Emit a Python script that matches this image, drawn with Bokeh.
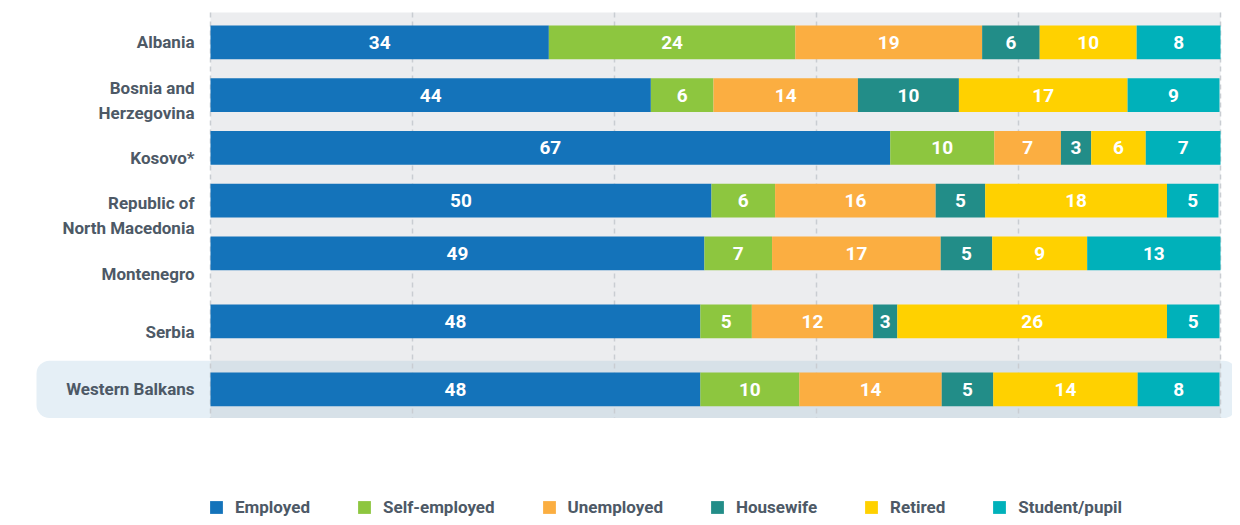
import numpy as np
from bokeh.plotting import figure
from bokeh.models import ColumnDataSource, Range1d, Legend, LegendItem
from bokeh.core.properties import value
from bokeh.embed import file_html
from bokeh.resources import INLINE

# ---------------- data ----------------
countries = ["Albania", "Bosnia and\nHerzegovina", "Kosovo*", "Republic of\nNorth Macedonia",
             "Montenegro", "Serbia", "Western Balkans"]
series = ["Employed", "Self-employed", "Unemployed", "Housewife", "Retired", "Student/pupil"]

employed      = [33.5, 43.6, 67.3, 49.6, 48.9, 48.5, 48.5]
self_employed = [24.4, 6.2, 10.3, 6.3, 6.7, 5.1, 9.8]
unemployed    = [18.5, 14.3, 6.6, 15.9, 16.7, 12.0, 14.1]
housewife     = [5.7, 10.0, 3.0, 4.9, 5.1, 2.4, 5.1]
retired       = [9.6, 16.7, 5.4, 18.0, 9.4, 26.7, 14.3]
student       = [8.3, 9.1, 7.4, 5.1, 13.2, 5.2, 8.1]

employed_lbl      = [34, 44, 67, 50, 49, 48, 48]
self_employed_lbl = [24, 6, 10, 6, 7, 5, 10]
unemployed_lbl    = [19, 14, 7, 16, 17, 12, 14]
housewife_lbl     = [6, 10, 3, 5, 5, 3, 5]
retired_lbl       = [10, 17, 6, 18, 9, 26, 14]
student_lbl       = [8, 9, 7, 5, 13, 5, 8]

grid_ticks = [0, 20, 40, 60, 80, 100]

colors = ["#1473BA", "#8DC63F", "#FBAE41", "#228D88", "#FFD100", "#00B1BA"]
TEXT_COLOR = "#4D5966"
FONT = "Roboto"

# ---------------- layout ----------------
W, H = 1232, 517
ORIGIN = 0              # picture px of figure origin
ROW_PX = 52.75          # px per row unit
X_PX = 10.1             # px per percent
X0_PIC = 210.0          # picture px of 0 %
Y0_PIC = 41.85          # picture px of first row centre
GAP = 15.25 / ROW_PX    # extra gap before Serbia and Western Balkans
BAR_H = 33.7 / ROW_PX

n = len(countries)
idx = np.arange(n)
pos = idx + GAP * np.maximum(0, idx - 4)
label_pos = np.linspace(pos[0], pos[-1], n)

vals = [employed, self_employed, unemployed, housewife, retired, student]
lbls = [employed_lbl, self_employed_lbl, unemployed_lbl, housewife_lbl, retired_lbl, student_lbl]

data = {"pos": pos}
for name, v in zip(series, vals):
    data[name] = v
source = ColumnDataSource(data)

p = figure(width=W, height=H, output_backend="svg", toolbar_location=None,
           x_axis_location=None, y_axis_location=None, min_border=0,
           x_range=Range1d((ORIGIN - X0_PIC) / X_PX, (ORIGIN + W - X0_PIC) / X_PX),
           y_range=Range1d((ORIGIN + H - Y0_PIC) / ROW_PX, (ORIGIN - Y0_PIC) / ROW_PX))
p.outline_line_color = None
p.grid.visible = False
p.background_fill_color = "white"
p.border_fill_color = "white"

# highlight band for Western Balkans
band_half = 28.7 / ROW_PX
p.quad(left=(36 - X0_PIC) / X_PX, right=(1236 - X0_PIC) / X_PX,
       top=pos[-1] - band_half, bottom=pos[-1] + band_half,
       fill_color="#E5EFF6", line_color=None, border_radius=13)

# grey plot background
bg_top = (12 - Y0_PIC) / ROW_PX
bg_bottom = pos[-1] + band_half
p.quad(left=0, right=100, top=bg_top, bottom=bg_bottom, fill_color="#ECEDEF", line_color=None)
p.quad(left=0, right=100, top=pos[-1] - band_half, bottom=bg_bottom,
       fill_color="#D7E1E8", line_color=None)

# dashed gridlines
p.segment(x0=grid_ticks, x1=grid_ticks, y0=[bg_top] * len(grid_ticks), y1=[bg_bottom] * len(grid_ticks),
          line_color="#C9CDD2", line_width=1.5, line_dash="5 4")

# stacked bars
renderers = p.hbar_stack(series, y="pos", height=BAR_H, color=colors, source=source, line_color=None)

# value labels
cum = np.cumsum(np.array(vals), axis=0)
starts = cum - np.array(vals)
centers = (cum + starts) / 2
for k in range(len(series)):
    p.text(x=centers[k], y=pos, text=[str(v) for v in lbls[k]],
           text_align="center", text_baseline="middle", text_color="white",
           text_font=value(FONT), text_font_style="bold", text_font_size="19px")

# category labels
p.text(x=[(194 - X0_PIC) / X_PX] * n, y=label_pos, text=countries,
       text_align="right", text_baseline="middle", text_color=TEXT_COLOR,
       text_font=value(FONT), text_font_style="bold", text_font_size="17px",
       text_line_height=1.25)

# legend
legend = Legend(items=[LegendItem(label=s, renderers=[r]) for s, r in zip(series, renderers)],
                orientation="horizontal", location=(208, 0),
                glyph_width=16, glyph_height=16, label_standoff=11, spacing=46,
                padding=0, margin=0, border_line_color=None, background_fill_alpha=0,
                label_text_font=FONT, label_text_font_style="bold", label_text_font_size="17px",
                label_text_color=TEXT_COLOR, label_height=16)
p.add_layout(legend, "center")

open("out.html", "w").write(file_html(p, INLINE))
